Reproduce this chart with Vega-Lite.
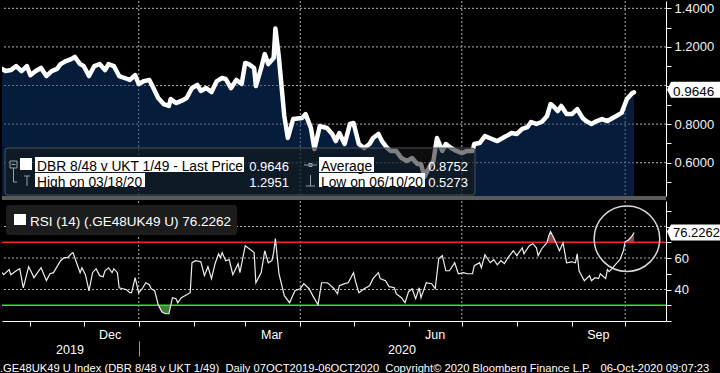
{
  "$schema": "https://vega.github.io/schema/vega-lite/v6.json",
  "background": "#000000",
  "padding": 0,
  "autosize": {"type": "pad"},
  "config": {"view": {"stroke": null}, "font": "Liberation Sans"},
  "datasets": {
    "price": [
      {"d":"2019-10-16","v":1.086},{"d":"2019-10-18","v":1.075},{"d":"2019-10-21","v":1.080},{"d":"2019-10-24","v":1.101},
      {"d":"2019-10-27","v":1.075},{"d":"2019-10-30","v":1.101},{"d":"2019-11-01","v":1.054},{"d":"2019-11-04","v":1.075},
      {"d":"2019-11-07","v":1.091},{"d":"2019-11-10","v":1.049},{"d":"2019-11-13","v":1.075},{"d":"2019-11-16","v":1.086},
      {"d":"2019-11-18","v":1.111},{"d":"2019-11-21","v":1.127},{"d":"2019-11-24","v":1.137},{"d":"2019-11-26","v":1.148},
      {"d":"2019-11-29","v":1.111},{"d":"2019-12-01","v":1.101},{"d":"2019-12-04","v":1.049},{"d":"2019-12-07","v":1.101},
      {"d":"2019-12-10","v":1.111},{"d":"2019-12-13","v":1.080},{"d":"2019-12-15","v":1.111},{"d":"2019-12-18","v":1.101},
      {"d":"2019-12-21","v":1.049},{"d":"2019-12-24","v":1.039},{"d":"2019-12-27","v":1.029},{"d":"2019-12-30","v":1.054},
      {"d":"2020-01-01","v":1.008},{"d":"2020-01-04","v":1.023},{"d":"2020-01-07","v":1.029},{"d":"2020-01-09","v":0.992},
      {"d":"2020-01-12","v":0.935},{"d":"2020-01-15","v":0.904},{"d":"2020-01-18","v":0.894},{"d":"2020-01-19","v":0.930},
      {"d":"2020-01-22","v":0.909},{"d":"2020-01-25","v":0.920},{"d":"2020-01-28","v":0.935},{"d":"2020-01-31","v":0.987},
      {"d":"2020-02-03","v":1.003},{"d":"2020-02-05","v":0.972},{"d":"2020-02-08","v":0.987},{"d":"2020-02-11","v":0.966},
      {"d":"2020-02-14","v":1.023},{"d":"2020-02-17","v":1.039},{"d":"2020-02-19","v":1.034},{"d":"2020-02-22","v":0.987},
      {"d":"2020-02-25","v":1.029},{"d":"2020-02-28","v":1.008},{"d":"2020-03-01","v":1.117},{"d":"2020-03-03","v":1.111},
      {"d":"2020-03-06","v":1.091},{"d":"2020-03-07","v":0.997},{"d":"2020-03-10","v":1.091},{"d":"2020-03-12","v":1.163},
      {"d":"2020-03-14","v":1.111},{"d":"2020-03-17","v":1.142},{"d":"2020-03-18","v":1.2951},{"d":"2020-03-20","v":1.142},
      {"d":"2020-03-23","v":0.842},{"d":"2020-03-25","v":0.728},{"d":"2020-03-28","v":0.826},{"d":"2020-04-02","v":0.832},
      {"d":"2020-04-04","v":0.852},{"d":"2020-04-07","v":0.780},{"d":"2020-04-09","v":0.671},{"d":"2020-04-12","v":0.790},
      {"d":"2020-04-16","v":0.780},{"d":"2020-04-19","v":0.749},{"d":"2020-04-21","v":0.712},{"d":"2020-04-23","v":0.754},
      {"d":"2020-04-26","v":0.697},{"d":"2020-04-29","v":0.801},{"d":"2020-05-01","v":0.806},{"d":"2020-05-04","v":0.697},
      {"d":"2020-05-07","v":0.676},{"d":"2020-05-10","v":0.697},{"d":"2020-05-12","v":0.728},{"d":"2020-05-15","v":0.749},
      {"d":"2020-05-17","v":0.712},{"d":"2020-05-20","v":0.676},{"d":"2020-05-22","v":0.661},{"d":"2020-05-25","v":0.661},
      {"d":"2020-05-28","v":0.624},{"d":"2020-05-31","v":0.609},{"d":"2020-06-03","v":0.624},{"d":"2020-06-06","v":0.593},
      {"d":"2020-06-08","v":0.593},{"d":"2020-06-10","v":0.5273},{"d":"2020-06-13","v":0.583},{"d":"2020-06-15","v":0.609},
      {"d":"2020-06-17","v":0.728},{"d":"2020-06-20","v":0.661},{"d":"2020-06-22","v":0.697},{"d":"2020-06-25","v":0.676},
      {"d":"2020-06-28","v":0.661},{"d":"2020-07-01","v":0.650},{"d":"2020-07-04","v":0.661},{"d":"2020-07-07","v":0.661},
      {"d":"2020-07-08","v":0.697},{"d":"2020-07-11","v":0.702},{"d":"2020-07-14","v":0.738},{"d":"2020-07-18","v":0.723},
      {"d":"2020-07-21","v":0.712},{"d":"2020-07-23","v":0.723},{"d":"2020-07-26","v":0.738},{"d":"2020-07-29","v":0.754},
      {"d":"2020-08-01","v":0.749},{"d":"2020-08-04","v":0.775},{"d":"2020-08-07","v":0.785},{"d":"2020-08-09","v":0.811},
      {"d":"2020-08-12","v":0.801},{"d":"2020-08-15","v":0.811},{"d":"2020-08-18","v":0.842},{"d":"2020-08-20","v":0.904},
      {"d":"2020-08-22","v":0.889},{"d":"2020-08-24","v":0.868},{"d":"2020-08-26","v":0.894},{"d":"2020-08-29","v":0.852},
      {"d":"2020-09-01","v":0.852},{"d":"2020-09-04","v":0.878},{"d":"2020-09-07","v":0.832},{"d":"2020-09-09","v":0.816},
      {"d":"2020-09-12","v":0.801},{"d":"2020-09-15","v":0.816},{"d":"2020-09-18","v":0.826},{"d":"2020-09-21","v":0.816},
      {"d":"2020-09-24","v":0.832},{"d":"2020-09-26","v":0.842},{"d":"2020-09-29","v":0.858},{"d":"2020-10-02","v":0.930},
      {"d":"2020-10-05","v":0.961},{"d":"2020-10-06","v":0.9646}
    ],
    "rsi": [
      {"d":"2019-10-16","r":50.7},{"d":"2019-10-17","r":49.4},{"d":"2019-10-20","r":52.6},{"d":"2019-10-21","r":49.4},
      {"d":"2019-10-24","r":51.9},{"d":"2019-10-26","r":53.2},{"d":"2019-10-28","r":41.1},{"d":"2019-10-31","r":54.5},
      {"d":"2019-11-02","r":50.0},{"d":"2019-11-03","r":47.5},{"d":"2019-11-05","r":50.7},{"d":"2019-11-07","r":53.8},
      {"d":"2019-11-10","r":45.7},{"d":"2019-11-12","r":50.0},{"d":"2019-11-14","r":50.7},{"d":"2019-11-16","r":54.5},
      {"d":"2019-11-18","r":58.3},{"d":"2019-11-20","r":60.2},{"d":"2019-11-22","r":60.2},{"d":"2019-11-24","r":62.7},
      {"d":"2019-11-25","r":63.4},{"d":"2019-11-27","r":57.0},{"d":"2019-11-29","r":50.7},{"d":"2019-11-30","r":53.8},
      {"d":"2019-12-02","r":49.4},{"d":"2019-12-04","r":39.2},{"d":"2019-12-06","r":50.7},{"d":"2019-12-08","r":53.2},
      {"d":"2019-12-10","r":48.8},{"d":"2019-12-12","r":48.1},{"d":"2019-12-13","r":51.9},{"d":"2019-12-15","r":53.8},
      {"d":"2019-12-17","r":50.7},{"d":"2019-12-18","r":53.2},{"d":"2019-12-20","r":50.7},{"d":"2019-12-21","r":41.1},
      {"d":"2019-12-23","r":40.5},{"d":"2019-12-25","r":39.9},{"d":"2019-12-27","r":38.0},{"d":"2019-12-28","r":38.0},
      {"d":"2019-12-30","r":47.5},{"d":"2020-01-01","r":38.0},{"d":"2020-01-03","r":40.5},{"d":"2020-01-05","r":44.3},
      {"d":"2020-01-07","r":43.0},{"d":"2020-01-08","r":40.5},{"d":"2020-01-10","r":39.2},{"d":"2020-01-12","r":30.3},
      {"d":"2020-01-14","r":25.9},{"d":"2020-01-16","r":24.6},{"d":"2020-01-18","r":24.6},{"d":"2020-01-20","r":34.8},
      {"d":"2020-01-22","r":34.2},{"d":"2020-01-23","r":31.6},{"d":"2020-01-25","r":34.8},{"d":"2020-01-28","r":36.7},
      {"d":"2020-01-30","r":38.0},{"d":"2020-01-31","r":57.0},{"d":"2020-02-02","r":58.3},{"d":"2020-02-05","r":57.6},
      {"d":"2020-02-07","r":48.8},{"d":"2020-02-09","r":54.5},{"d":"2020-02-11","r":46.9},{"d":"2020-02-13","r":56.4},
      {"d":"2020-02-15","r":62.7},{"d":"2020-02-16","r":60.2},{"d":"2020-02-17","r":63.4},{"d":"2020-02-19","r":58.3},
      {"d":"2020-02-21","r":58.9},{"d":"2020-02-23","r":49.4},{"d":"2020-02-26","r":56.4},{"d":"2020-02-27","r":50.7},
      {"d":"2020-03-01","r":67.8},{"d":"2020-03-04","r":65.3},{"d":"2020-03-06","r":63.4},{"d":"2020-03-07","r":44.3},
      {"d":"2020-03-10","r":50.7},{"d":"2020-03-12","r":64.6},{"d":"2020-03-14","r":57.0},{"d":"2020-03-16","r":58.3},
      {"d":"2020-03-17","r":63.4},{"d":"2020-03-18","r":72.3},{"d":"2020-03-20","r":50.0},{"d":"2020-03-23","r":36.1},
      {"d":"2020-03-26","r":31.6},{"d":"2020-03-27","r":34.2},{"d":"2020-03-29","r":39.2},{"d":"2020-04-01","r":40.5},
      {"d":"2020-04-03","r":43.7},{"d":"2020-04-06","r":40.5},{"d":"2020-04-08","r":36.1},{"d":"2020-04-11","r":30.3},
      {"d":"2020-04-13","r":44.3},{"d":"2020-04-16","r":44.3},{"d":"2020-04-17","r":43.7},{"d":"2020-04-20","r":40.5},
      {"d":"2020-04-22","r":37.3},{"d":"2020-04-23","r":42.4},{"d":"2020-04-26","r":43.7},{"d":"2020-04-28","r":44.3},
      {"d":"2020-05-01","r":50.7},{"d":"2020-05-02","r":45.6},{"d":"2020-05-04","r":38.0},{"d":"2020-05-07","r":40.5},
      {"d":"2020-05-10","r":42.4},{"d":"2020-05-12","r":46.9},{"d":"2020-05-15","r":50.7},{"d":"2020-05-16","r":46.9},
      {"d":"2020-05-19","r":45.6},{"d":"2020-05-21","r":41.8},{"d":"2020-05-24","r":41.1},{"d":"2020-05-25","r":37.3},
      {"d":"2020-05-28","r":34.8},{"d":"2020-05-30","r":31.6},{"d":"2020-06-01","r":38.6},{"d":"2020-06-03","r":40.5},
      {"d":"2020-06-05","r":34.2},{"d":"2020-06-07","r":41.1},{"d":"2020-06-08","r":34.8},{"d":"2020-06-11","r":44.3},
      {"d":"2020-06-14","r":43.7},{"d":"2020-06-16","r":40.5},{"d":"2020-06-18","r":59.6},{"d":"2020-06-20","r":61.5},
      {"d":"2020-06-22","r":51.9},{"d":"2020-06-24","r":51.9},{"d":"2020-06-27","r":57.0},{"d":"2020-06-29","r":50.0},
      {"d":"2020-07-02","r":50.7},{"d":"2020-07-04","r":50.0},{"d":"2020-07-07","r":50.0},{"d":"2020-07-08","r":55.1},
      {"d":"2020-07-11","r":57.0},{"d":"2020-07-12","r":53.8},{"d":"2020-07-14","r":62.1},{"d":"2020-07-17","r":57.0},
      {"d":"2020-07-19","r":58.9},{"d":"2020-07-21","r":55.7},{"d":"2020-07-23","r":58.3},{"d":"2020-07-25","r":56.4},
      {"d":"2020-07-27","r":60.2},{"d":"2020-07-30","r":64.6},{"d":"2020-08-01","r":61.5},{"d":"2020-08-04","r":66.5},
      {"d":"2020-08-05","r":62.7},{"d":"2020-08-08","r":67.8},{"d":"2020-08-10","r":69.1},{"d":"2020-08-12","r":66.5},
      {"d":"2020-08-13","r":61.5},{"d":"2020-08-15","r":65.9},{"d":"2020-08-18","r":69.7},{"d":"2020-08-19","r":74.2},
      {"d":"2020-08-20","r":76.7},{"d":"2020-08-22","r":72.3},{"d":"2020-08-23","r":69.7},{"d":"2020-08-25","r":64.6},
      {"d":"2020-08-27","r":69.7},{"d":"2020-08-29","r":57.0},{"d":"2020-09-01","r":57.6},{"d":"2020-09-03","r":57.0},
      {"d":"2020-09-04","r":62.7},{"d":"2020-09-05","r":51.9},{"d":"2020-09-08","r":45.6},{"d":"2020-09-11","r":48.8},
      {"d":"2020-09-12","r":45.6},{"d":"2020-09-14","r":47.5},{"d":"2020-09-16","r":46.9},{"d":"2020-09-17","r":50.0},
      {"d":"2020-09-20","r":46.9},{"d":"2020-09-21","r":52.6},{"d":"2020-09-22","r":51.3},{"d":"2020-09-25","r":55.1},
      {"d":"2020-09-26","r":56.4},{"d":"2020-09-28","r":58.9},{"d":"2020-09-30","r":64.6},{"d":"2020-10-01","r":70.3},
      {"d":"2020-10-03","r":71.6},{"d":"2020-10-05","r":74.2},{"d":"2020-10-06","r":76.2262}
    ],
    "ob": [
      {"seg":"a","d":"2020-08-18","r":70},{"seg":"a","d":"2020-08-19","r":74.2},{"seg":"a","d":"2020-08-20","r":76.7},
      {"seg":"a","d":"2020-08-22","r":72.3},{"seg":"a","d":"2020-08-23","r":70},
      {"seg":"b","d":"2020-10-01","r":70},{"seg":"b","d":"2020-10-03","r":71.6},{"seg":"b","d":"2020-10-05","r":74.2},
      {"seg":"b","d":"2020-10-06","r":76.2262}
    ],
    "os": [
      {"d":"2020-01-12","r":30},{"d":"2020-01-14","r":25.9},{"d":"2020-01-16","r":24.6},{"d":"2020-01-18","r":24.6},{"d":"2020-01-19","r":30}
    ]
  },
  "title": {
    "text": ".GE48UK49 U Index (DBR 8/48 v UKT 1/49)\u00a0\u00a0Daily 07OCT2019-06OCT2020\u00a0\u00a0Copyright\u00a9 2020 Bloomberg Finance L.P.\u00a0\u00a0\u00a006-Oct-2020 09:07:23",
    "orient": "bottom", "anchor": "start", "color": "#ffffff", "fontSize": 11.2, "fontWeight": "normal", "font": "Liberation Sans", "offset": 6
  },
  "spacing": 5,
  "bounds": "flush",
  "vconcat": [
    {
      "width": 664, "height": 195,
      "data": {"name": "price", "format": {"parse": {"d": "date:'%Y-%m-%d'"}}},
      "resolve": {"axis": {"x": "independent", "y": "independent"}},
      "layer": [
        {"data": {"values": [{}]}, "mark": {"type": "rule", "color": "#b0b0b0", "strokeDash": [2, 2], "strokeWidth": 1},
         "encoding": {"x": {"datum": {"year": 2020, "month": 1, "date": 1}, "type": "temporal", "axis": null}}},
        {"data": {"values": [{}]}, "mark": {"type": "rule", "color": "#b0b0b0", "strokeDash": [2, 2], "strokeWidth": 1},
         "encoding": {"x": {"datum": {"year": 2020, "month": 4, "date": 1}, "type": "temporal", "axis": null}}},
        {"data": {"values": [{}]}, "mark": {"type": "rule", "color": "#b0b0b0", "strokeDash": [2, 2], "strokeWidth": 1},
         "encoding": {"x": {"datum": {"year": 2020, "month": 7, "date": 1}, "type": "temporal", "axis": null}}},
        {"data": {"values": [{}]}, "mark": {"type": "rule", "color": "#b0b0b0", "strokeDash": [2, 2], "strokeWidth": 1},
         "encoding": {"x": {"datum": {"year": 2020, "month": 10, "date": 1}, "type": "temporal", "axis": null}}},
        {"data": {"values": [{}]}, "mark": {"type": "rule", "color": "#b0b0b0", "strokeDash": [2, 2], "strokeWidth": 1},
         "encoding": {"y": {"datum": 0.6, "type": "quantitative", "axis": null}}},
        {"data": {"values": [{}]}, "mark": {"type": "rule", "color": "#b0b0b0", "strokeDash": [2, 2], "strokeWidth": 1},
         "encoding": {"y": {"datum": 0.8, "type": "quantitative", "axis": null}}},
        {"data": {"values": [{}]}, "mark": {"type": "rule", "color": "#b0b0b0", "strokeDash": [2, 2], "strokeWidth": 1},
         "encoding": {"y": {"datum": 1.0, "type": "quantitative", "axis": null}}},
        {"data": {"values": [{}]}, "mark": {"type": "rule", "color": "#b0b0b0", "strokeDash": [2, 2], "strokeWidth": 1},
         "encoding": {"y": {"datum": 1.2, "type": "quantitative", "axis": null}}},
        {"data": {"values": [{}]}, "mark": {"type": "rule", "color": "#b0b0b0", "strokeDash": [2, 2], "strokeWidth": 1},
         "encoding": {"y": {"datum": 1.4, "type": "quantitative", "axis": null}}},
        {
          "mark": {"type": "area", "color": "#0a3a74", "opacity": 0.5, "clip": true},
          "encoding": {
            "x": {"field": "d", "type": "temporal",
              "scale": {"domain": [{"year": 2019, "month": 10, "date": 16}, {"year": 2020, "month": 10, "date": 24}]},
              "axis": null},
            "y": {"field": "v", "type": "quantitative",
              "scale": {"domain": [0.4275, 1.438], "nice": false, "zero": false},
              "axis": null}
          }
        },
        {
          "mark": {"type": "line", "color": "#ffffff", "strokeWidth": 4.5, "strokeJoin": "round", "strokeCap": "round", "clip": true},
          "encoding": {
            "x": {"field": "d", "type": "temporal", "axis": null},
            "y": {"field": "v", "type": "quantitative",
              "axis": {"orient": "right", "title": null, "values": [0.5, 0.6, 0.7, 0.8, 0.9, 1.0, 1.1, 1.2, 1.3, 1.4], "format": ".4f",
                "labelExpr": "round(datum.value*10) % 2 == 0 && round(datum.value*10) != 10 ? datum.label : ''",
                "domainColor": "#ffffff", "tickColor": "#ffffff", "tickSize": 5, "labelColor": "#eef3fa", "labelFontSize": 13, "labelPadding": 3,
                "grid": false}}
          }
        },
        {"data": {"values": [{}]}, "mark": {"type": "rule", "color": "#5a5a5a", "strokeWidth": 4, "yOffset": 2},
         "encoding": {"y": {"datum": 0.4275, "type": "quantitative", "axis": null}}},
        {
          "data": {"values": [{}]},
          "mark": {"type": "point", "shape": "M6,-23H470Q473,-23 473,-20V21Q473,24 470,24H6Q3,24 3,21V-20Q3,-23 6,-23Z", "size": 4, "filled": true, "fill": "#171717", "fillOpacity": 0.55, "stroke": "#4b535c", "strokeWidth": 1, "strokeOpacity": 1},
          "encoding": {"x": {"datum": {"year": 2019, "month": 10, "date": 16}, "type": "temporal", "axis": null}, "y": {"datum": 0.557, "type": "quantitative", "axis": null}}
        },
        {
          "data": {"values": [{}]},
          "mark": {"type": "point", "shape": "M33,-14H242V1H33Z M317,-14H372V1H317Z M33,2H143V16H33Z M317,2H423V16H317Z M18,-13H30V-1H18Z", "size": 4, "filled": true, "color": "#ffffff", "opacity": 1, "strokeWidth": 0},
          "encoding": {"x": {"datum": {"year": 2019, "month": 10, "date": 16}, "type": "temporal", "axis": null}, "y": {"datum": 0.557, "type": "quantitative", "axis": null}}
        },
        {
          "data": {"values": [{}]},
          "mark": {"type": "point", "shape": "M8,-10H15V-3H8Z M9.5,-6.5H13.5 M11.5,-3V11H15 M22,5H28 M25,5V15 M302,-6H315 M307,-7.5H310V-4.5H307Z M308.5,4V15 M304,15H313", "size": 4, "filled": false, "color": "#9aa0a6", "strokeWidth": 1, "opacity": 1},
          "encoding": {"x": {"datum": {"year": 2019, "month": 10, "date": 16}, "type": "temporal", "axis": null}, "y": {"datum": 0.557, "type": "quantitative", "axis": null}}
        },
        {
          "data": {"values": [{}]},
          "mark": {"type": "text", "text": ["DBR 8/48 v UKT 1/49 - Last Price", "High on 03/18/20"], "dx": 35, "align": "left", "baseline": "alphabetic", "lineHeight": 15.5, "fontSize": 13.8, "color": "#000000"},
          "encoding": {"x": {"datum": {"year": 2019, "month": 10, "date": 16}, "type": "temporal", "axis": null}, "y": {"datum": 0.557, "type": "quantitative", "axis": null}}
        },
        {
          "data": {"values": [{}]},
          "mark": {"type": "text", "text": ["0.9646", "1.2951"], "dx": 287, "align": "right", "baseline": "alphabetic", "lineHeight": 15.5, "fontSize": 13, "color": "#ffffff"},
          "encoding": {"x": {"datum": {"year": 2019, "month": 10, "date": 16}, "type": "temporal", "axis": null}, "y": {"datum": 0.557, "type": "quantitative", "axis": null}}
        },
        {
          "data": {"values": [{}]},
          "mark": {"type": "text", "text": ["Average", "Low on 06/10/20"], "dx": 319, "align": "left", "baseline": "alphabetic", "lineHeight": 15.5, "fontSize": 13.8, "color": "#000000"},
          "encoding": {"x": {"datum": {"year": 2019, "month": 10, "date": 16}, "type": "temporal", "axis": null}, "y": {"datum": 0.557, "type": "quantitative", "axis": null}}
        },
        {
          "data": {"values": [{}]},
          "mark": {"type": "text", "text": ["0.8752", "0.5273"], "dx": 466, "align": "right", "baseline": "alphabetic", "lineHeight": 15.5, "fontSize": 13, "color": "#ffffff"},
          "encoding": {"x": {"datum": {"year": 2019, "month": 10, "date": 16}, "type": "temporal", "axis": null}, "y": {"datum": 0.557, "type": "quantitative", "axis": null}}
        },
        {
          "data": {"values": [{}]},
          "mark": {"type": "point", "shape": "M33,-2.6L37,-10.6H88V5.4H37Z", "size": 4, "filled": true, "color": "#ffffff", "opacity": 1, "strokeWidth": 0},
          "encoding": {"x": {"datum": {"year": 2020, "month": 10, "date": 6}, "type": "temporal", "axis": null}, "y": {"datum": 0.9646, "type": "quantitative", "axis": null}}
        },
        {
          "data": {"values": [{}]},
          "mark": {"type": "text", "text": "0.9646", "dx": 39, "dy": 4, "align": "left", "baseline": "alphabetic", "fontSize": 13.5, "color": "#000000"},
          "encoding": {"x": {"datum": {"year": 2020, "month": 10, "date": 6}, "type": "temporal", "axis": null}, "y": {"datum": 0.9646, "type": "quantitative", "axis": null}}
        }
      ]
    },
    {
      "width": 664, "height": 120,
      "resolve": {"axis": {"x": "independent", "y": "independent"}},
      "layer": [
        {"data": {"values": [{}]}, "mark": {"type": "rule", "color": "#b0b0b0", "strokeDash": [2, 2], "strokeWidth": 1},
         "encoding": {"x": {"datum": {"year": 2020, "month": 1, "date": 1}, "type": "temporal", "axis": null}}},
        {"data": {"values": [{}]}, "mark": {"type": "rule", "color": "#b0b0b0", "strokeDash": [2, 2], "strokeWidth": 1},
         "encoding": {"x": {"datum": {"year": 2020, "month": 4, "date": 1}, "type": "temporal", "axis": null}}},
        {"data": {"values": [{}]}, "mark": {"type": "rule", "color": "#b0b0b0", "strokeDash": [2, 2], "strokeWidth": 1},
         "encoding": {"x": {"datum": {"year": 2020, "month": 7, "date": 1}, "type": "temporal", "axis": null}}},
        {"data": {"values": [{}]}, "mark": {"type": "rule", "color": "#b0b0b0", "strokeDash": [2, 2], "strokeWidth": 1},
         "encoding": {"x": {"datum": {"year": 2020, "month": 10, "date": 1}, "type": "temporal", "axis": null}}},
        {"data": {"values": [{}]}, "mark": {"type": "rule", "color": "#b0b0b0", "strokeDash": [2, 2], "strokeWidth": 1},
         "encoding": {"y": {"datum": 40, "type": "quantitative", "axis": null}}},
        {"data": {"values": [{}]}, "mark": {"type": "rule", "color": "#b0b0b0", "strokeDash": [2, 2], "strokeWidth": 1},
         "encoding": {"y": {"datum": 60, "type": "quantitative", "axis": null}}},
        {"data": {"values": [{}]}, "mark": {"type": "rule", "color": "#b0b0b0", "strokeDash": [2, 2], "strokeWidth": 1},
         "encoding": {"y": {"datum": 80, "type": "quantitative", "axis": null}}},
        {
          "data": {"name": "ob", "format": {"parse": {"d": "date:'%Y-%m-%d'"}}},
          "mark": {"type": "area", "color": "#824b4b", "opacity": 1, "clip": true},
          "encoding": {
            "x": {"field": "d", "type": "temporal",
              "axis": {"orient": "bottom", "title": null, "domain": false, "grid": false, "offset": 20, "tickSize": 15, "tickColor": "#9a9a9a",
                "values": [{"year": 2019, "month": 11, "date": 23}, {"year": 2020, "month": 1, "date": 1}, {"year": 2020, "month": 5, "date": 28}],
                "tickOpacity": {"condition": {"test": "month(datum.value) == 0", "value": 1}, "value": 0},
                "labelExpr": "month(datum.value) == 0 ? '' : timeFormat(datum.value, '%Y')",
                "labelColor": "#ffffff", "labelFontSize": 12.5, "labelPadding": -13, "labelFlush": false, "labelOverlap": false, "labelBound": false}},
            "y": {"field": "r", "type": "quantitative", "axis": null},
            "y2": {"datum": 70},
            "detail": {"field": "seg", "type": "nominal"}
          }
        },
        {
          "data": {"name": "os", "format": {"parse": {"d": "date:'%Y-%m-%d'"}}},
          "mark": {"type": "area", "color": "#3c823c", "opacity": 1, "clip": true},
          "encoding": {
            "x": {"field": "d", "type": "temporal", "axis": null},
            "y": {"field": "r", "type": "quantitative", "axis": null},
            "y2": {"datum": 30}
          }
        },
        {
          "data": {"values": [{}]},
          "mark": {"type": "rule", "color": "#ff2020", "strokeWidth": 1.3},
          "encoding": {"y": {"datum": 70, "type": "quantitative", "axis": null}}
        },
        {
          "data": {"values": [{}]},
          "mark": {"type": "rule", "color": "#22ee22", "strokeWidth": 1.3},
          "encoding": {"y": {"datum": 30, "type": "quantitative", "axis": null}}
        },
        {
          "data": {"name": "rsi", "format": {"parse": {"d": "date:'%Y-%m-%d'"}}},
          "mark": {"type": "line", "color": "#eeeeee", "strokeWidth": 1.2, "clip": true},
          "encoding": {
            "x": {"field": "d", "type": "temporal",
              "scale": {"domain": [{"year": 2019, "month": 10, "date": 16}, {"year": 2020, "month": 10, "date": 24}]},
              "axis": {"orient": "bottom", "title": null,
                "values": [{"year": 2019, "month": 11, "date": 1}, {"year": 2019, "month": 12, "date": 1}, {"year": 2020, "month": 1, "date": 1}, {"year": 2020, "month": 2, "date": 1}, {"year": 2020, "month": 3, "date": 1}, {"year": 2020, "month": 4, "date": 1}, {"year": 2020, "month": 5, "date": 1}, {"year": 2020, "month": 6, "date": 1}, {"year": 2020, "month": 7, "date": 1}, {"year": 2020, "month": 8, "date": 1}, {"year": 2020, "month": 9, "date": 1}, {"year": 2020, "month": 10, "date": 1}],
                "labelExpr": "indexof([2, 5, 8, 11], month(datum.value)) >= 0 ? timeFormat(datum.value, '%b') : ''",
                "labelOffset": 26, "labelColor": "#ffffff", "labelFontSize": 12.5, "labelPadding": 2, "labelFlush": false, "labelOverlap": false, "labelBound": false,
                "domainColor": "#ffffff", "tickColor": "#ffffff", "tickSize": 5, "grid": false}},
            "y": {"field": "r", "type": "quantitative",
              "scale": {"domain": [20, 96.2], "nice": false, "zero": false},
              "axis": {"orient": "right", "title": null, "values": [20, 30, 40, 50, 60, 70, 80, 90], "format": "d",
                "labelExpr": "datum.value == 40 || datum.value == 60 ? datum.label : ''",
                "domainColor": "#ffffff", "tickColor": "#ffffff", "tickSize": 5, "labelColor": "#eef3fa", "labelFontSize": 13, "labelPadding": 3,
                "grid": false}}
          }
        },
        {
          "data": {"values": [{}]},
          "mark": {"type": "point", "shape": "circle", "size": 4301, "filled": false, "color": "#d8d8d8", "strokeWidth": 1.5, "opacity": 1},
          "encoding": {"x": {"datum": {"year": 2020, "month": 10, "date": 2}, "type": "temporal", "axis": null}, "y": {"datum": 72.25, "type": "quantitative", "axis": null}}
        },
        {
          "data": {"values": [{}]},
          "mark": {"type": "point", "shape": "M7,-21H232Q235,-21 235,-18V6Q235,9 232,9H7Q4,9 4,6V-18Q4,-21 7,-21Z", "size": 4, "filled": true, "color": "#1c1c1c", "opacity": 1, "strokeWidth": 0},
          "encoding": {"x": {"datum": {"year": 2019, "month": 10, "date": 16}, "type": "temporal", "axis": null}, "y": {"datum": 80.33, "type": "quantitative", "axis": null}}
        },
        {
          "data": {"values": [{}]},
          "mark": {"type": "point", "shape": "M12,-12H24V-1H12Z", "size": 4, "filled": true, "color": "#ffffff", "opacity": 1, "strokeWidth": 0},
          "encoding": {"x": {"datum": {"year": 2019, "month": 10, "date": 16}, "type": "temporal", "axis": null}, "y": {"datum": 80.33, "type": "quantitative", "axis": null}}
        },
        {
          "data": {"values": [{}]},
          "mark": {"type": "text", "text": "RSI (14) (.GE48UK49 U) 76.2262", "dx": 28, "align": "left", "baseline": "alphabetic", "fontSize": 13.5, "color": "#ffffff"},
          "encoding": {"x": {"datum": {"year": 2019, "month": 10, "date": 16}, "type": "temporal", "axis": null}, "y": {"datum": 80.33, "type": "quantitative", "axis": null}}
        },
        {
          "data": {"values": [{}]},
          "mark": {"type": "point", "shape": "M33,-1L37,-8H88V8H37Z", "size": 4, "filled": true, "color": "#ffffff", "opacity": 1, "strokeWidth": 0},
          "encoding": {"x": {"datum": {"year": 2020, "month": 10, "date": 6}, "type": "temporal", "axis": null}, "y": {"datum": 76.2262, "type": "quantitative", "axis": null}}
        },
        {
          "data": {"values": [{}]},
          "mark": {"type": "text", "text": "76.2262", "dx": 39, "dy": 5, "align": "left", "baseline": "alphabetic", "fontSize": 13, "color": "#000000"},
          "encoding": {"x": {"datum": {"year": 2020, "month": 10, "date": 6}, "type": "temporal", "axis": null}, "y": {"datum": 76.2262, "type": "quantitative", "axis": null}}
        }
      ]
    }
  ]
}
